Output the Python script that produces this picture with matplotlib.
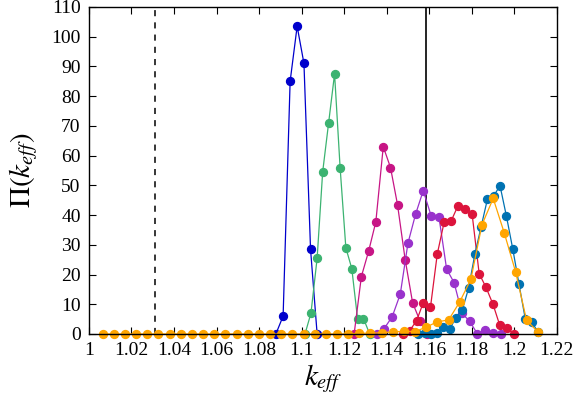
import matplotlib.pyplot as plt

plt.rcParams['font.family'] = ['Liberation Serif', 'DejaVu Serif']
plt.rcParams['mathtext.fontset'] = 'stix'

# one histogram per series
k1 = [1.0879, 1.0913, 1.0946, 1.0979, 1.1011, 1.1042, 1.1073]
p1 = [0, 6, 85, 103.5, 91, 28.5, 0]

k2 = [1.1016, 1.1044, 1.1073, 1.1099, 1.1127, 1.1155, 1.1181, 1.1208,
      1.1236, 1.1263, 1.1291, 1.1320]
p2 = [0, 7, 25.5, 54.5, 71, 87.5, 56, 29, 22, 5.2, 5.2, 0]

k3 = [1.1247, 1.1281, 1.1315, 1.1349, 1.1384, 1.1418, 1.1451, 1.1487,
      1.1522, 1.1556, 1.1590]
p3 = [0, 19.3, 27.8, 37.7, 63, 56, 43.5, 25, 10.5, 4.5, 0]

k4 = [1.1353, 1.1388, 1.1426, 1.1464, 1.1500, 1.1536, 1.1572, 1.1609,
      1.1646, 1.1682, 1.1717, 1.1754, 1.1791, 1.1827, 1.1863, 1.1900, 1.1937]
p4 = [0, 1.8, 5.8, 13.4, 30.5, 40.3, 48.2, 39.8, 39.3, 21.8, 17.3, 7, 4.2,
      0, 1.2, 0.3, 0]

k5 = [1.1475, 1.1508, 1.1541, 1.1572, 1.1606, 1.1638, 1.1670, 1.1703,
      1.1736, 1.1769, 1.1802, 1.1835, 1.1867, 1.1900, 1.1932, 1.1964, 1.1998]
p5 = [0, 1.1, 4.5, 10.5, 9, 26.9, 37.5, 38, 43.2, 42, 40.2, 20.3, 15.7, 10,
      2.9, 1.9, 0]

k6 = [1.1548, 1.1578, 1.1607, 1.1637, 1.1667, 1.1696, 1.1726, 1.1756,
      1.1785, 1.1815, 1.1844, 1.1874, 1.1904, 1.1933, 1.1963, 1.1993,
      1.2022, 1.2052, 1.2082, 1.2111]
p6 = [0, 0.3, 0, 0.3, 2.2, 1.6, 5.5, 8.2, 15.3, 26.9, 36, 45.4, 46.5, 49.9,
      39.7, 28.6, 16.9, 5, 4.1, 0.7]

k7 = [1.0064, 1.0117, 1.0169, 1.0222, 1.0274, 1.0326, 1.0379, 1.0431,
      1.0484, 1.0536, 1.0589, 1.0641, 1.0694, 1.0746, 1.0799, 1.0851,
      1.0904, 1.0956, 1.1009, 1.1061, 1.1114, 1.1166, 1.1218, 1.1271,
      1.1323, 1.1376, 1.1428, 1.1481, 1.1533, 1.1586, 1.1638, 1.1691,
      1.1743, 1.1796, 1.1848, 1.1901, 1.1953, 1.2006, 1.2058, 1.2111]
p7 = [0, 0, 0, 0, 0, 0, 0, 0, 0, 0, 0, 0, 0, 0, 0, 0, 0, 0, 0, 0,
      0, 0, 0, 0.2, 0.3, 0.4, 0.7, 0.9, 0.8, 2.3, 4.1, 4.7, 10.7, 18.4,
      36.7, 45.6, 34, 21, 4.6, 0.7]

k_dashed = 1.0312
k_solid = 1.1584

xticks = [1, 1.02, 1.04, 1.06, 1.08, 1.1, 1.12, 1.14, 1.16, 1.18, 1.2, 1.22]
xlabels = ['1', '1.02', '1.04', '1.06', '1.08', '1.1', '1.12', '1.14',
           '1.16', '1.18', '1.2', '1.22']

series = [
    (k1, p1, '#0000cc'),
    (k2, p2, '#3cb371'),
    (k3, p3, '#c71585'),
    (k4, p4, '#9932cc'),
    (k5, p5, '#dc143c'),
    (k6, p6, '#0072b2'),
    (k7, p7, '#ffa500'),
]

fig = plt.figure(figsize=(5.74, 3.99), dpi=100)
ax = fig.add_axes([0.155, 0.163, 0.815, 0.8195])

ax.axvline(k_dashed, color='black', lw=1.1, ls=(0, (4, 4)))
ax.axvline(k_solid, color='black', lw=1.2)

for k, p, c in series:
    ax.plot(k, p, '-o', color=c, lw=0.9, ms=5.7, clip_on=False)

ax.set_xlim(1, 1.22)
ax.set_ylim(0, 110)
ax.set_xticks(xticks)
ax.set_xticklabels(xlabels)
ax.set_yticks(range(0, 111, 10))
ax.tick_params(direction='in', top=True, right=True, labelsize=14,
               length=5, width=0.8, pad=6)
for s in ax.spines.values():
    s.set_linewidth(1.0)

ax.set_xlabel(r'$k_{eff}$', fontsize=21, labelpad=2)
ax.set_ylabel(r'$\Pi(k_{eff})$', fontsize=21, labelpad=8)

fig.savefig('out.png', dpi=100)
